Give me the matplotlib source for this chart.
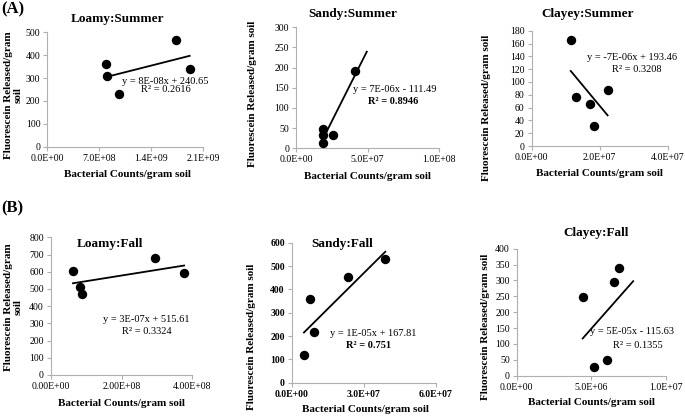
import numpy as np
import matplotlib
matplotlib.use("Agg")
import matplotlib.pyplot as plt
from matplotlib.ticker import FuncFormatter, MultipleLocator

plt.rcParams['font.family'] = ['Liberation Serif', 'DejaVu Serif']

# ---------------- data ----------------
titles = ["Loamy:Summer", "Sandy:Summer", "Clayey:Summer",
          "Loamy:Fall", "Sandy:Fall", "Clayey:Fall"]

loamy_summer_x = [7.9e8, 8.1e8, 9.7e8, 1.73e9, 1.92e9]
loamy_summer_y = [361, 310, 230, 466, 341]
sandy_summer_x = [1.86e7, 1.86e7, 1.9e7, 2.56e7, 4.11e7]
sandy_summer_y = [14, 34, 47, 32, 192]
clayey_summer_x = [1.15e7, 1.31e7, 1.71e7, 2.23e7, 1.84e7]
clayey_summer_y = [166, 76, 65, 87, 32]
loamy_fall_x = [6.3e7, 8.2e7, 8.85e7, 2.94e8, 3.77e8]
loamy_fall_y = [606, 509, 472, 680, 591]
sandy_fall_x = [5.1e6, 7.6e6, 9.2e6, 2.33e7, 3.9e7]
sandy_fall_y = [117, 359, 216, 454, 529]
clayey_fall_x = [4.42e6, 5.2e6, 6.07e6, 6.55e6, 6.84e6]
clayey_fall_y = [249, 27, 48, 296, 339]

xs = [loamy_summer_x, sandy_summer_x, clayey_summer_x, loamy_fall_x, sandy_fall_x, clayey_fall_x]
ys = [loamy_summer_y, sandy_summer_y, clayey_summer_y, loamy_fall_y, sandy_fall_y, clayey_fall_y]

# trendline extent (end of line, forward forecast where visible)
trend_x_end = [1.92e9, 4.95e7, 2.23e7, 3.77e8, 3.9e7, 7.8e6]

x_max = [2.1e9, 1.0e8, 4.0e7, 4.0e8, 6.0e7, 1.0e7]
x_step = [7.0e8, 5.0e7, 2.0e7, 2.0e8, 3.0e7, 5.0e6]
x_dec = [1, 1, 1, 2, 1, 1]
y_max = [500, 300, 180, 800, 600, 400]
y_step = [100, 50, 20, 100, 100, 50]

equations = ["y = 8E-08x + 240.65", "y = 7E-06x - 111.49", "y = -7E-06x + 193.46",
             "y = 3E-07x + 515.61", "y = 1E-05x + 167.81", "y = 5E-05x - 115.63"]
r2_texts = ["R² = 0.2616", "R² = 0.8946", "R² = 0.3208",
            "R² = 0.3324", "R² = 0.751", "R² = 0.1355"]
r2_bold = [False, True, False, False, True, False]
tick_bold = [False, False, False, False, True, False]
ylabels = ["Fluorescein Released/gram\nsoil", "Fluorescein Released/gram soil",
           "Fluorescein Released/gram soil", "Fluorescein Released/gram\nsoil",
           "Fluorescein Released/gram soil", "Fluorescein Released/gram soil"]
xlabel = "Bacterial Counts/gram soil"

# ---------------- layout (pixels) ----------------
W, H = 685, 417
rects = [(47.3, 203, 32.3, 146.7), (296, 439, 27.3, 148.3), (531.5, 668, 30.7, 146),
         (50.7, 192.3, 237.3, 375), (291.7, 435.7, 242.7, 382.7), (516.7, 666, 248.7, 375.7)]
title_pos = [(117, 19), (353, 14), (588, 13.5), (109.5, 244.5), (342, 243.5), (596.5, 233)]
eq_pos = [((165, 81), (165.7, 89.3)), ((395, 90), (393.3, 101.7)), ((631.7, 57.3), (636.7, 69.3)),
          ((146.7, 319.3), (146.7, 331)), ((373.3, 333.3), (368.3, 345.7)),
          ((631.7, 331.7), (638.3, 346))]
xlabel_pos = [(128, 174), (368, 176), (600, 173.3), (121.7, 403.3), (365, 410), (591.7, 402.3)]
ylabel_pos = [(13.5, 95), (252.7, 94.3), (486.7, 108), (13.5, 307), (251.7, 337), (485, 327)]

fig = plt.figure(figsize=(W / 100, H / 100), dpi=100)

def fx(px):
    return px / W

def fy(py):
    return 1 - py / H

grid_col = "#b0b0b0"
for i in range(6):
    L, R, T, B = rects[i]
    ax = fig.add_axes([fx(L), fy(B), (R - L) / W, (B - T) / H])
    x = np.array(xs[i])
    y = np.array(ys[i])
    ax.scatter(x, y, s=46, color="black", zorder=3, linewidths=0)
    slope, inter = np.polyfit(x, y, 1)
    lx = np.array([x.min(), trend_x_end[i]])
    ax.plot(lx, slope * lx + inter, color="black", lw=1.3, zorder=2)
    ax.set_xlim(0, x_max[i])
    ax.set_ylim(0, y_max[i])
    ax.xaxis.set_major_locator(MultipleLocator(x_step[i]))
    ax.yaxis.set_major_locator(MultipleLocator(y_step[i]))
    d = x_dec[i]
    ax.xaxis.set_major_formatter(FuncFormatter(lambda v, p, d=d: f"{v:.{d}E}"))
    ax.yaxis.set_major_formatter(FuncFormatter(lambda v, p: f"{v:.0f}"))
    for s in ["top", "right"]:
        ax.spines[s].set_visible(False)
    for s in ["left", "bottom"]:
        ax.spines[s].set_color(grid_col)
        ax.spines[s].set_linewidth(0.8)
    ax.tick_params(axis="both", direction="out", length=3, width=0.8, color=grid_col,
                   labelsize=7, pad=2, labelcolor="black")
    if tick_bold[i]:
        for lab in ax.get_xticklabels() + ax.get_yticklabels():
            lab.set_fontweight("bold")
    ax.patch.set_alpha(0)

    # texts
    tx, ty = title_pos[i]
    fig.text(fx(tx), fy(ty), titles[i], ha="center", va="center", fontsize=9.5, fontweight="bold")
    (e1x, e1y), (e2x, e2y) = eq_pos[i]
    fig.text(fx(e1x), fy(e1y), equations[i], ha="center", va="center", fontsize=7.5)
    fig.text(fx(e2x), fy(e2y), r2_texts[i], ha="center", va="center", fontsize=7.5,
             fontweight="bold" if r2_bold[i] else "normal")
    xlx, xly = xlabel_pos[i]
    fig.text(fx(xlx), fy(xly), xlabel, ha="center", va="center", fontsize=8, fontweight="bold")
    ylx, yly = ylabel_pos[i]
    fig.text(fx(ylx), fy(yly), ylabels[i], ha="center", va="center", rotation=90,
             fontsize=8, fontweight="bold", linespacing=1.0)

fig.text(fx(1), fy(9), "(A)", ha="left", va="center", fontsize=12, fontweight="bold")
fig.text(fx(1), fy(208), "(B)", ha="left", va="center", fontsize=12, fontweight="bold")

fig.savefig("out.png", dpi=100)
